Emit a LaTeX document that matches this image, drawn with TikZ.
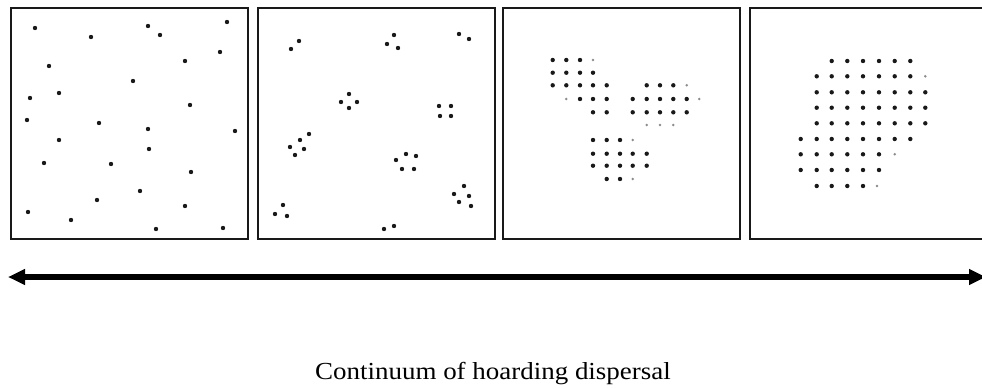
\documentclass[tikz,border=0pt]{standalone}
\usepackage{fontspec}
\setmainfont{Liberation Serif}
\usetikzlibrary{arrows.meta}
\begin{document}
\begin{tikzpicture}[x=1pt,y=-1pt,
  panel/.style={draw=black!90,line width=1.6pt,fill=white},
  hdot/.style={fill=black!90,draw=none},
  fdot/.style={fill=black!45,draw=none},
  axis/.style={line width=6pt,black,{Triangle[length=17pt,width=15pt]}-{Triangle[length=17pt,width=15pt]}}]
\useasboundingbox (0,0) rectangle (982,388);
\fill[white] (0,0) rectangle (982,388);
% panels
\draw[panel] (11,8) rectangle (248,239);
\draw[panel] (258,8) rectangle (495,239);
\draw[panel] (503,8) rectangle (740,239);
\draw[panel] (750,8) rectangle (990,239);
\node[inner sep=0] (p1) at (129.5,123.5) {};
\node[inner sep=0] (p2) at (376.5,123.5) {};
\node[inner sep=0] (p3) at (621.5,123.5) {};
\node[inner sep=0] (p4) at (866,123.5) {};
% panel 1: random dispersal
\foreach \x/\y in {35/28,91/37,148/26,160/35,227/22,220/52,185/61,49/66,133/81,59/93,30/98,190/105,27/120,99/123,148/129,235/131,59/140,149/149,44/163,111/164,191/172,140/191,97/200,185/206,28/212,71/220,156/229,223/228}
  \fill[hdot] (\x,\y) circle (2.2);
% panel 2: small clusters
\foreach \x/\y in {299/41,291/49,394/35,387/44,398/48,459/34,469/39,349/94,341/102,357/102,349/108,439/106,451/106,440/116,451/116,309/134,300/140,290/147,304/149,295/155,406/154,416/156,396/160,402/169,414/169,464/186,454/194,469/196,459/202,471/206,283/205,275/214,287/216,384/229,394/226}
  \fill[hdot] (\x,\y) circle (2.2);
% panel 3: larger clusters
\foreach \x/\y in {552.7/60,566.3/60,580/60,
  552.7/72.7,566.3/72.7,580/72.7,593/72.7,
  552.7/85.3,566.3/85.3,580/85.3,593/85.3,606.7/85.3,
  580/99,593/99,606.7/99,
  593/112.3,606.7/112.3,
  646.7/85.3,660/85.3,673.3/85.3,
  632.7/99,646.7/99,660/99,673.3/99,686.7/99,
  632.7/112.3,646.7/112.3,660/112.3,673.3/112.3,686.7/112.3,
  593/140,606.7/140,620/140,
  593/153.7,606.7/153.7,620/153.7,632.7/153.7,646.7/153.7,
  593/165.7,606.7/165.7,620/165.7,632.7/165.7,646.7/165.7,
  606.7/179,620/179}
  \fill[hdot] (\x,\y) circle (2.2);
\foreach \x/\y in {593/60,566.3/99,686.7/85.3,699.3/99,646.7/125,660/125,673.3/125,632.7/140,632.7/179}
  \fill[fdot] (\x,\y) circle (1.4);
% panel 4: one large cache
\foreach \y in {76.3,92.3,107.7,123.3}
  \foreach \x in {816.7,831.7,847.3,863,879,894.7,910.3}
    \fill[hdot] (\x,\y) circle (2.2);
\foreach \x in {831.7,847.3,863,879,894.7,910.3}
  \fill[hdot] (\x,61) circle (2.2);
\foreach \y in {92.3,107.7,123.3}
  \fill[hdot] (925.3,\y) circle (2.2);
\foreach \x in {800.7,816.7,831.7,847.3,863,879,894.7,910.3}
  \fill[hdot] (\x,139) circle (2.2);
\foreach \x in {800.7,816.7,831.7,847.3,863,879}
  \fill[hdot] (\x,154.3) circle (2.2);
\foreach \x in {800.7,816.7,831.7,847.3,863,879}
  \fill[hdot] (\x,170) circle (2.2);
\foreach \x in {816.7,831.7,847.3,863}
  \fill[hdot] (\x,186) circle (2.2);
\foreach \x/\y in {925.3/76.3,894.7/154.3,877/186}
  \fill[fdot] (\x,\y) circle (1.4);
% continuum arrow
\coordinate (aL) at (8,277);
\coordinate (aR) at (986,277);
\draw[axis] (aL) -- (aR);
% caption
\node[font=\fontsize{24.5}{28}\selectfont,anchor=base,inner sep=0,xscale=1.1] (cap) at (493,379) {Continuum of hoarding dispersal};
\end{tikzpicture}
\end{document}
